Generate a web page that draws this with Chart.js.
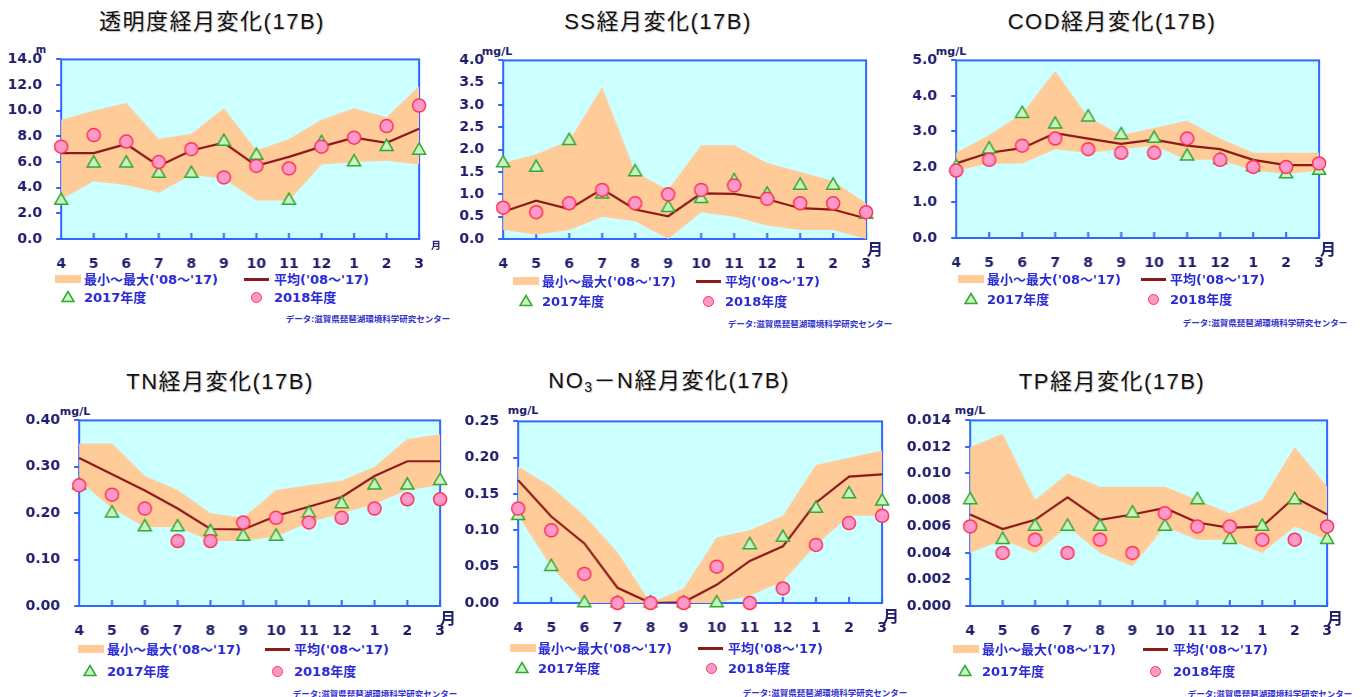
<!DOCTYPE html>
<html><head><meta charset="utf-8">
<script src="https://cdn.jsdelivr.net/npm/chart.js@4.4.0/dist/chart.umd.min.js"></script>
<style>
html,body{margin:0;padding:0;background:#fff;width:1362px;height:697px;overflow:hidden;position:relative;font-family:"DejaVu Sans","Noto Sans CJK JP",sans-serif;}
.abs{position:absolute;white-space:nowrap;line-height:1;}
.title{font-family:"Liberation Sans","Noto Sans CJK JP",sans-serif;font-size:22px;letter-spacing:1.5px;color:#111;transform:translate(-50%,-50%);text-shadow:1px 1px 1px rgba(0,0,0,0.22);}
.title sub{font-size:14px;vertical-align:-4px;}
.unit{font-size:11px;font-weight:bold;color:#20206e;transform:translate(-50%,-50%);}
.tsuki{font-family:"Noto Sans CJK JP",sans-serif;font-weight:bold;color:#20206e;transform:translate(-50%,-50%);}
.leg{font-size:13px;font-weight:bold;color:#2b2bd6;transform:translateY(-50%);}
.credit{font-family:"Noto Sans CJK JP",sans-serif;font-size:8.5px;font-weight:bold;color:#3333cc;transform:translate(-50%,-50%);}
canvas{position:absolute;}
</style></head><body>
<script>
// ---- data ----
const months = ['4','5','6','7','8','9','10','11','12','1','2','3'];

const tomeiMax  = [9.3,10.0,10.6,7.8,8.2,10.2,6.9,7.8,9.3,10.2,9.5,11.9];
const tomeiMin  = [3.1,4.5,4.2,3.6,5.0,4.7,3.0,3.0,5.8,6.0,6.1,5.8];
const tomeiAvg  = [6.7,6.7,7.4,5.7,6.9,7.5,5.7,6.4,7.2,7.9,7.5,8.6];
const tomei2017 = [3.0,5.9,5.9,5.1,5.1,7.6,6.5,3.0,7.5,6.0,7.2,6.9];
const tomei2018 = [7.2,8.1,7.6,6.0,7.0,4.8,5.7,5.5,7.2,7.9,8.8,10.4];

const ssMax  = [1.7,1.9,2.2,3.4,1.5,1.1,2.1,2.1,1.7,1.5,1.3,0.8];
const ssMin  = [0.2,0.1,0.2,0.5,0.4,0.0,0.6,0.5,0.3,0.2,0.2,0.0];
const ssAvg  = [0.61,0.86,0.67,1.12,0.66,0.51,1.02,1.01,0.89,0.69,0.66,0.46];
const ss2017 = [1.7,1.6,2.2,1.0,1.5,0.7,0.9,1.3,1.0,1.2,1.2,0.55];
const ss2018 = [0.7,0.6,0.8,1.1,0.8,1.0,1.1,1.2,0.9,0.8,0.8,0.6];

const codMax  = [2.4,2.9,3.5,4.7,3.4,2.9,3.1,3.3,2.8,2.4,2.4,2.4];
const codMin  = [1.9,2.1,2.1,2.5,2.4,2.5,2.6,2.2,2.2,1.9,1.8,1.9];
const codAvg  = [2.1,2.4,2.53,2.95,2.8,2.65,2.77,2.6,2.5,2.2,2.05,2.05];
const cod2017 = [2.0,2.5,3.5,3.2,3.4,2.9,2.8,2.3,2.2,2.0,1.8,1.9];
const cod2018 = [1.9,2.2,2.6,2.8,2.5,2.4,2.4,2.8,2.2,2.0,2.0,2.1];

const tnMax  = [0.35,0.35,0.28,0.25,0.20,0.19,0.25,0.26,0.27,0.30,0.36,0.37];
const tnMin  = [0.27,0.21,0.17,0.17,0.14,0.14,0.15,0.18,0.20,0.22,0.25,0.26];
const tnAvg  = [0.319,0.284,0.249,0.21,0.166,0.165,0.194,0.214,0.235,0.28,0.312,0.312];
const tn2017 = [0.26,0.20,0.17,0.17,0.16,0.15,0.15,0.20,0.22,0.26,0.26,0.27];
const tn2018 = [0.26,0.24,0.21,0.14,0.14,0.18,0.19,0.18,0.19,0.21,0.23,0.23];

const no3Max  = [0.188,0.16,0.12,0.07,0.0,0.02,0.09,0.10,0.12,0.19,0.20,0.21];
const no3Min  = [0.12,0.05,0,0,0,0,0,0.01,0.03,0.08,0.12,0.12];
const no3Avg  = [0.169,0.119,0.082,0.021,0.0,0.001,0.025,0.058,0.078,0.138,0.174,0.177];
const no32017 = [0.12,0.05,0,0,0,0,0,0.08,0.09,0.13,0.15,0.14];
const no32018 = [0.13,0.10,0.04,0,0,0,0.05,0,0.02,0.08,0.11,0.12];

const tpMax  = [0.012,0.013,0.008,0.010,0.009,0.009,0.009,0.008,0.007,0.008,0.012,0.009];
const tpMin  = [0.004,0.005,0.004,0.006,0.004,0.003,0.006,0.005,0.005,0.004,0.006,0.005];
const tpAvg  = [0.0069,0.0058,0.0065,0.0082,0.0065,0.0069,0.0074,0.0063,0.0059,0.0060,0.0082,0.0069];
const tp2017 = [0.008,0.005,0.006,0.006,0.006,0.007,0.006,0.008,0.005,0.006,0.008,0.005];
const tp2018 = [0.006,0.004,0.005,0.004,0.005,0.004,0.007,0.006,0.006,0.005,0.005,0.006];

const legendBand = "最小～最大('08～'17)";
const legendAvg  = "平均('08～'17)";
const legend2017 = "2017年度";
const legend2018 = "2018年度";
const creditText = "データ:滋賀県琵琶湖環境科学研究センター";
const tsukiText = "月";

// ---- panels (layout) ----
const panels = [
  {title:"透明度経月変化(17B)", unit:"m", yMax:14, step:2, dec:1,
   max:tomeiMax, min:tomeiMin, avg:tomeiAvg, y17:tomei2017, y18:tomei2018,
   L:61,R:419,T:59,B:239, tPos:[212,22], uPos:[41,50,10], tsPos:[436,245,10],
   lg:{box:55,t1:84,line:244,t2:274,tri:68,circ:256,y1:279,y2:297}, cPos:[368,318]},
  {title:"SS経月変化(17B)", unit:"mg/L", yMax:4, step:0.5, dec:1,
   max:ssMax, min:ssMin, avg:ssAvg, y17:ss2017, y18:ss2018,
   L:503,R:866,T:60,B:239, tPos:[658,22], uPos:[497,51,11], tsPos:[875,248,16],
   lg:{box:513,t1:542,line:696,t2:725,tri:526,circ:708,y1:281,y2:301}, cPos:[810,323]},
  {title:"COD経月変化(17B)", unit:"mg/L", yMax:5, step:1, dec:1,
   max:codMax, min:codMin, avg:codAvg, y17:cod2017, y18:cod2018,
   L:956,R:1319,T:60,B:238, tPos:[1112,22], uPos:[951,51,11], tsPos:[1328,248,16],
   lg:{box:958,t1:987,line:1141,t2:1170,tri:971,circ:1153,y1:279,y2:299}, cPos:[1265,322]},
  {title:"TN経月変化(17B)", unit:"mg/L", yMax:0.4, step:0.1, dec:2,
   max:tnMax, min:tnMin, avg:tnAvg, y17:tn2017, y18:tn2018,
   L:79,R:440,T:420,B:606, tPos:[220,382], uPos:[75,411,11], tsPos:[448,617,16],
   lg:{box:78,t1:107,line:265,t2:294,tri:90,circ:277,y1:649,y2:671}, cPos:[375,693]},
  {title:"NO<sub>3</sub>－N経月変化(17B)", unit:"mg/L", yMax:0.25, step:0.05, dec:2,
   max:no3Max, min:no3Min, avg:no3Avg, y17:no32017, y18:no32018,
   L:518,R:882,T:421,B:603, tPos:[669,382], uPos:[523,410,11], tsPos:[891,615,16],
   lg:{box:510,t1:538,line:698,t2:728,tri:522,circ:711,y1:648,y2:668}, cPos:[825,692]},
  {title:"TP経月変化(17B)", unit:"mg/L", yMax:0.014, step:0.002, dec:3,
   max:tpMax, min:tpMin, avg:tpAvg, y17:tp2017, y18:tp2018,
   L:970,R:1327,T:420,B:606, tPos:[1112,382], uPos:[970,410,11], tsPos:[1335,617,16],
   lg:{box:953,t1:982,line:1143,t2:1173,tri:965,circ:1155,y1:649,y2:671}, cPos:[1270,693]}
];

const C = {bg:'#ccffff', frame:'#3366ff', band:'#ffcc99', avg:'#8b1a1a',
  triFill:'#c8f5c0', triLine:'#33a833', cirFill:'#ff99cc', cirLine:'#ff3355', tick:'#1c1c6b'};

function el(tag, cls, html, x, y, extra){
  const d=document.createElement(tag); d.className='abs '+cls; d.innerHTML=html;
  d.style.left=x+'px'; d.style.top=y+'px'; if(extra) Object.assign(d.style, extra);
  document.body.appendChild(d); return d;
}

const framePlugin = {
  id:'frame',
  beforeDraw(chart){
    const a=chart.chartArea, ctx=chart.ctx;
    ctx.save(); ctx.fillStyle=C.bg; ctx.fillRect(a.left,a.top,a.right-a.left,a.bottom-a.top); ctx.restore();
  },
  beforeDatasetsDraw(chart){
    const a=chart.chartArea, ctx=chart.ctx, xs=chart.scales.x;
    ctx.save(); ctx.strokeStyle=C.frame; ctx.lineWidth=2;
    ctx.strokeRect(a.left,a.top,a.right-a.left,a.bottom-a.top);
    ctx.beginPath();
    for(let i=0;i<xs.ticks.length;i++){
      const x=xs.getPixelForTick(i);
      ctx.moveTo(x,a.bottom); ctx.lineTo(x,a.bottom-6);
    }
    ctx.stroke(); ctx.restore();
  }
};

function buildChart(p, W, H){
  const cv=document.createElement('canvas');
  cv.width=W; cv.height=H; cv.style.width=W+'px'; cv.style.height=H+'px';
  document.body.appendChild(cv);
  const tickFont={family:'DejaVu Sans', size:14, weight:'bold'};
  const chart=new Chart(cv,{
    type:'line',
    data:{labels:months, datasets:[
      {label:legend2018, data:p.y18, showLine:false, pointStyle:'circle', pointRadius:6.5,
       backgroundColor:C.cirFill, borderColor:C.cirLine, borderWidth:1.5, clip:false},
      {label:legend2017, data:p.y17, showLine:false, pointStyle:'triangle', pointRadius:7.5,
       backgroundColor:C.triFill, borderColor:C.triLine, borderWidth:1.5, clip:false},
      {label:legendAvg, data:p.avg, borderColor:C.avg, borderWidth:2.2, pointRadius:0, fill:false, tension:0},
      {label:legendBand, data:p.max, borderColor:'rgba(0,0,0,0)', borderWidth:0, pointRadius:0, fill:'+1', backgroundColor:C.band},
      {label:'min', data:p.min, borderColor:'rgba(0,0,0,0)', borderWidth:0, pointRadius:0, fill:false}
    ]},
    options:{
      responsive:false, maintainAspectRatio:false, animation:false, devicePixelRatio:1,
      layout:{padding:{top:10,right:10,left:10,bottom:0}},
      plugins:{legend:{display:false}, tooltip:{enabled:false}, title:{display:false}},
      scales:{
        x:{type:'category', offset:false,
           grid:{display:false}, border:{display:false},
           ticks:{color:C.tick, font:tickFont, padding:9, maxRotation:0, autoSkip:false},
           afterFit(s){ s.height=40; }},
        y:{min:0, max:p.yMax,
           grid:{drawOnChartArea:false, drawTicks:true, tickLength:5, color:C.frame, lineWidth:2},
           border:{display:false},
           ticks:{stepSize:p.step, color:C.tick, font:tickFont, padding:14,
                  callback:v=>Number(v).toFixed(p.dec)},
           afterFit(s){ s.width=70; }}
      }
    },
    plugins:[framePlugin]
  });
  return {chart, cv};
}

panels.forEach(p=>{
  el('div','title',p.title,p.tPos[0],p.tPos[1]);
  el('div','unit',p.unit,p.uPos[0],p.uPos[1],{fontSize:p.uPos[2]+'px'});
  const g=p.lg;
  el('div','',"",g.box,g.y1-4,{width:'26px',height:'8px',background:C.band});
  el('div','leg',legendBand,g.t1,g.y1);
  el('div','',"",g.line,g.y1-1.5,{width:'25px',height:'3px',background:C.avg});
  el('div','leg',legendAvg,g.t2,g.y1);
  el('div','',`<svg width="14" height="13"><polygon points="7,1.5 13,11.5 1,11.5" fill="${C.triFill}" stroke="${C.triLine}" stroke-width="1.5"/></svg>`,g.tri-7,g.y2-7);
  el('div','leg',legend2017,g.t1,g.y2);
  el('div','',"",g.circ-5.5,g.y2-5.5,{width:'9px',height:'9px',borderRadius:'50%',background:C.cirFill,border:'1px solid '+C.cirLine});
  el('div','leg',legend2018,g.t2,g.y2);
  el('div','credit',creditText,p.cPos[0],p.cPos[1]);

  // first pass: measure the chart area, second pass: size so it matches the target box
  let W=p.R-p.L+120, H=p.B-p.T+90;
  let b=buildChart(p,W,H);
  const a=b.chart.chartArea;
  const dW=(p.R-p.L)-(a.right-a.left), dH=(p.B-p.T)-(a.bottom-a.top);
  b.chart.destroy(); b.cv.remove();
  W+=dW; H+=dH;
  b=buildChart(p,W,H);
  const a2=b.chart.chartArea;
  b.cv.style.left=(p.L-a2.left)+'px';
  b.cv.style.top=(p.T-a2.top)+'px';

  el('div','tsuki',tsukiText,p.tsPos[0],p.tsPos[1],{fontSize:p.tsPos[2]+'px'});
});
</script>
</body></html>
